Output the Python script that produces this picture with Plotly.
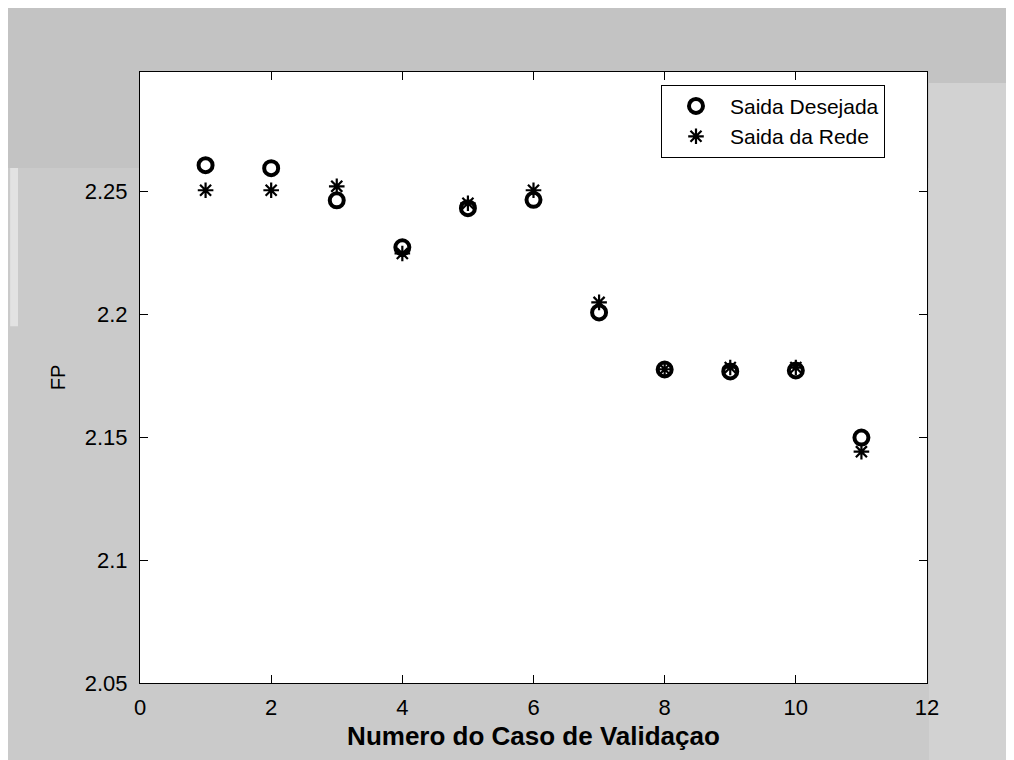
import plotly.graph_objects as go

# ---- data ----
caso = [1, 2, 3, 4, 5, 6, 7, 8, 9, 10, 11]
saida_desejada = [2.2606, 2.2594, 2.2463, 2.2272, 2.2431, 2.2465, 2.2007,
                  2.1775, 2.1767, 2.1771, 2.1498]
saida_rede = [2.2504, 2.2504, 2.2520, 2.2247, 2.2451, 2.2504, 2.2048,
              2.1776, 2.1783, 2.1783, 2.1441]
x_ticks = [0, 2, 4, 6, 8, 10, 12]
y_ticks = [2.05, 2.1, 2.15, 2.2, 2.25]
y_tick_text = ["2.05", "2.1", "2.15", "2.2", "2.25"]

FONT = "Liberation Sans, Arial, sans-serif"

fig = go.Figure()
fig.add_trace(go.Scatter(
    x=caso, y=saida_desejada, mode="markers", name="Saida Desejada",
    marker=dict(symbol="circle-open", size=14, color="black",
                line=dict(width=4, color="black")),
))
fig.add_trace(go.Scatter(
    x=caso, y=saida_rede, mode="markers", name="Saida da Rede",
    marker=dict(symbol="asterisk-open", size=13, color="black",
                line=dict(width=2.2, color="black")),
))

axis_common = dict(
    showline=True, linecolor="black", linewidth=1.2, mirror="ticks",
    ticks="inside", ticklen=8, tickcolor="black", tickwidth=1,
    showgrid=False, zeroline=False,
    tickfont=dict(family=FONT, size=22, color="black"),
)

fig.update_xaxes(
    range=[0, 12], tickvals=x_ticks, ticktext=[str(v) for v in x_ticks],
    title=dict(text="Numero do Caso de Validaçao", standoff=8,
               font=dict(family=FONT, size=26, color="black", weight="bold")),
    ticklabelstandoff=4,
    **axis_common,
)
fig.update_yaxes(
    range=[2.05, 2.2985], tickvals=y_ticks, ticktext=y_tick_text,
    title=dict(text="FP", standoff=13,
               font=dict(family=FONT, size=20, color="black")),
    ticklabelstandoff=7,
    **axis_common,
)

# scan-like background bands (outside the axes area)
fig.add_shape(type="rect", xref="paper", yref="paper", x0=-1, x1=2,
              y0=0.843, y1=1.3, fillcolor="#c3c3c3", line_width=0, layer="below")
fig.add_shape(type="rect", xref="paper", yref="paper", x0=1.0025, x1=2,
              y0=-1, y1=0.982, fillcolor="#d2d2d2", line_width=0, layer="below")
fig.add_shape(type="rect", xref="paper", yref="paper", x0=-0.165, x1=-0.155,
              y0=0.584, y1=0.843, fillcolor="#e2e2e2", line_width=0, layer="below")
# white axes area on top of the bands
fig.add_shape(type="rect", xref="paper", yref="paper", x0=0, x1=1,
              y0=0, y1=1, fillcolor="white", line_width=0, layer="below")

fig.update_layout(
    width=1006, height=752,
    margin=dict(l=132, r=87, t=64, b=77),
    paper_bgcolor="#cacaca",
    plot_bgcolor="white",
    showlegend=True,
    legend=dict(
        x=0.662, y=0.979, xanchor="left", yanchor="top",
        bgcolor="white", bordercolor="black", borderwidth=1,
        font=dict(family=FONT, size=21, color="black"),
        itemwidth=58, tracegroupgap=0,
    ),
)

fig.write_html("out.html")
